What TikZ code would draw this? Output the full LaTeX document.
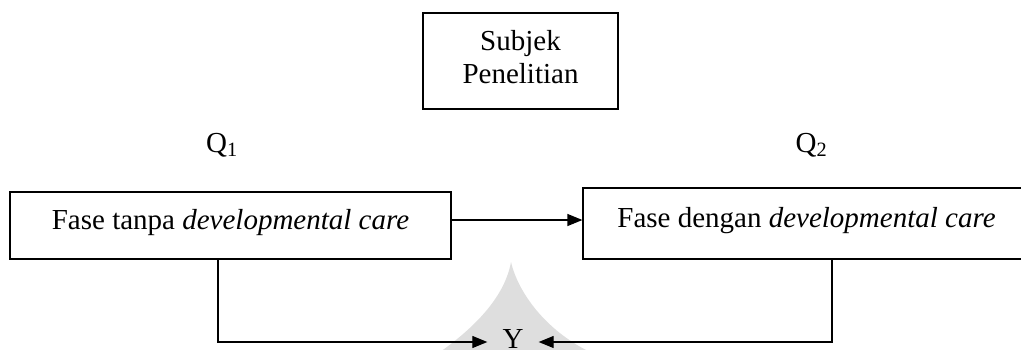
\documentclass[tikz,border=0pt]{standalone}
\usepackage{fontspec}
\setmainfont{Liberation Serif}
\usetikzlibrary{arrows.meta,positioning}
\tikzset{
  box/.style={draw, line width=1.2pt, inner sep=0pt, align=center, font=\fontsize{29}{33}\selectfont},
  lbl/.style={inner sep=0pt, font=\fontsize{29}{33}\selectfont},
  arr/.style={line width=1.2pt, -{Triangle[length=15pt,width=12pt]}},
  conn/.style={line width=1.2pt}
}
\begin{document}
\begin{tikzpicture}[x=1pt,y=-1pt]
\useasboundingbox (0,0) rectangle (1021,349);
\clip (0,0) rectangle (1021,349);
% faint watermark
\fill[black!13] (440,352) .. controls (478,325) and (505,295) .. (511,262)
  .. controls (518,292) and (545,330) .. (590,352) -- cycle;
% nodes
\node[box, minimum width=195pt, minimum height=96pt,
  label={[lbl, align=center, yshift=4pt]center:Subjek\\Penelitian}] (subj) at (520.5,61) {};
\node[lbl, anchor=base] (q1) at (222,152) {Q\textsubscript{1}};
\node[lbl, anchor=base] (q2) at (811.5,152) {Q\textsubscript{2}};
\node[box, minimum width=441pt, minimum height=67pt, text height=25pt, text depth=18pt] (lbox) at (230.5,225.5) {Fase tanpa \textit{developmental care}};
\node[box, minimum width=447pt, minimum height=71pt, text height=25pt, text depth=18pt] (rbox) at (806.5,223.5) {Fase dengan \textit{developmental care}};
\node[lbl, text height=13pt, text depth=0.5pt, inner xsep=15pt] (y) at (513,342) {Y};
% connectors
\draw[arr] ([yshift=5.5pt]lbox.east) -- ([yshift=5.5pt]lbox.east -| rbox.west);
\draw[arr] ([xshift=-12.5pt]lbox.south) |- (y.west);
\draw[arr] ([xshift=25.5pt]rbox.south) |- (y.east);
\end{tikzpicture}
\end{document}
